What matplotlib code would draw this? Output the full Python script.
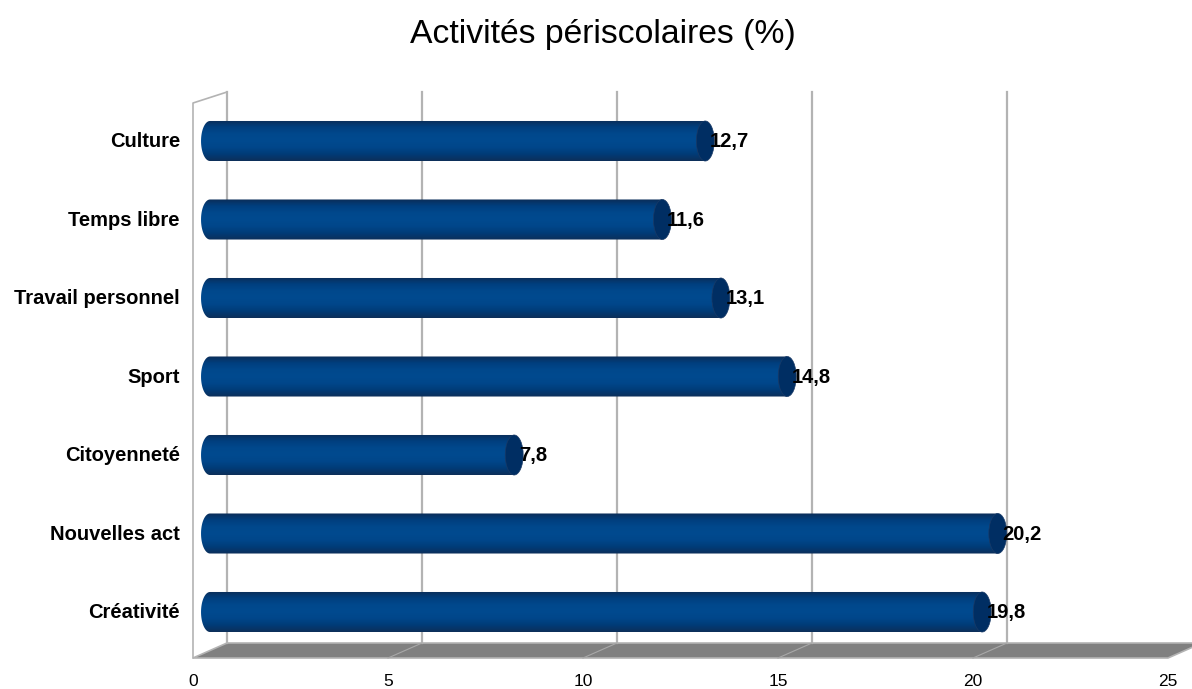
import matplotlib
matplotlib.use('Agg')
import matplotlib.pyplot as plt
import numpy as np
from matplotlib.patches import Polygon, Ellipse, PathPatch
from matplotlib.path import Path
from matplotlib.colors import LinearSegmentedColormap

plt.rcParams['font.family'] = ['Liberation Sans', 'DejaVu Sans']

# données
categories = ['Créativité', 'Nouvelles act', 'Citoyenneté', 'Sport',
              'Travail personnel', 'Temps libre', 'Culture']
values = [19.8, 20.2, 7.8, 14.8, 13.1, 11.6, 12.7]
labels = ['19,8', '20,2', '7,8', '14,8', '13,1', '11,6', '12,7']
xticks = [0, 5, 10, 15, 20, 25]
title = 'Activités périscolaires (%)'

W, H = 1192, 689
DEPTH = 0.436      # décalage x entre plan des barres et mur du fond
BAR_H = 0.51       # hauteur du cylindre
CAP_W = 0.46       # largeur de l'ellipse
GRID = '#b3b3b3'
XMIN = -1.0

fig = plt.figure(figsize=(W / 100, H / 100), dpi=100)
# axe : x=0 à 210 px, 39 px par unité ; y=-0.5..6.5 entre 651 et 102 px
ax = fig.add_axes([(210 + XMIN * 39) / W, 1 - 651.25 / H,
                   (25 - XMIN) * 39 / W, 549.5 / H])
ax.axis('off')

y_floor_back = -0.395
y_floor_front = -0.586
y_wall_top = 6.624
y_left_top = 6.484

# sol
floor = Polygon([(-DEPTH, y_floor_front), (25 - DEPTH, y_floor_front),
                 (25 + DEPTH, y_floor_back), (DEPTH, y_floor_back)],
                closed=True, facecolor='#808080', edgecolor=GRID,
                linewidth=1.2, clip_on=False, zorder=1)
ax.add_patch(floor)
for v in xticks[1:-1]:
    ax.plot([v - DEPTH, v + DEPTH], [y_floor_front, y_floor_back],
            color='#a8a8a8', lw=0.8, clip_on=False, zorder=1.5)

# grille du mur du fond
for v in xticks:
    ax.plot([v + DEPTH, v + DEPTH], [y_floor_back, y_wall_top],
            color=GRID, lw=1.6, clip_on=False, zorder=1)

# mur gauche
ax.plot([-DEPTH, -DEPTH, DEPTH], [y_floor_front, y_left_top, y_wall_top],
        color=GRID, lw=1.2, clip_on=False, zorder=1)

# cylindres
cmap = LinearSegmentedColormap.from_list(
    'cyl', ['#0b2d58', '#003f7f', '#00488c', '#004a8f', '#00468a', '#003c78', '#0d2f5a'])
grad = np.linspace(0, 1, 64).reshape(-1, 1)

for i, (v, lab) in enumerate(zip(values, labels)):
    y0, y1 = i - BAR_H / 2, i + BAR_H / 2
    # contour : rectangle + demi-ellipse gauche
    t = np.linspace(np.pi / 2, 3 * np.pi / 2, 40)
    left = np.column_stack([CAP_W / 2 * np.cos(t), i + BAR_H / 2 * np.sin(t)])
    verts = [(v, y1)] + list(map(tuple, left)) + [(v, y0), (v, y1)]
    path = Path(verts, closed=True)
    clip = PathPatch(path, transform=ax.transData, facecolor='none', edgecolor='none')
    ax.add_patch(clip)
    im = ax.imshow(grad, cmap=cmap, aspect='auto', origin='upper',
                   extent=[-CAP_W / 2, v, y0, y1], zorder=3,
                   interpolation='bilinear')
    im.set_clip_path(clip)
    cap = Ellipse((v, i), CAP_W, BAR_H, facecolor='#002e63',
                  edgecolor='#1a3a66', lw=0.5, zorder=4)
    ax.add_patch(cap)
    ax.text(v + 0.12, i - 0.01, lab, ha='left', va='center', fontsize=14.5,
            fontweight='bold', color='black', zorder=5)

# libellés des catégories
for i, c in enumerate(categories):
    ax.text(-0.77, i - 0.01, c, ha='right', va='center', fontsize=14.5,
            fontweight='bold', color='black', clip_on=False)

# graduations de l'axe x (plan avant)
for v in xticks:
    ax.text(v - DEPTH, -0.89, str(v), ha='center', va='center',
            fontsize=12.5, color='black', clip_on=False)

ax.set_xlim(XMIN, 25)
ax.set_ylim(-0.5, 6.5)

fig.text(0.506, 1 - 35 / H, title, ha='center', va='center', fontsize=24.3)

fig.savefig('out.png', dpi=100)
